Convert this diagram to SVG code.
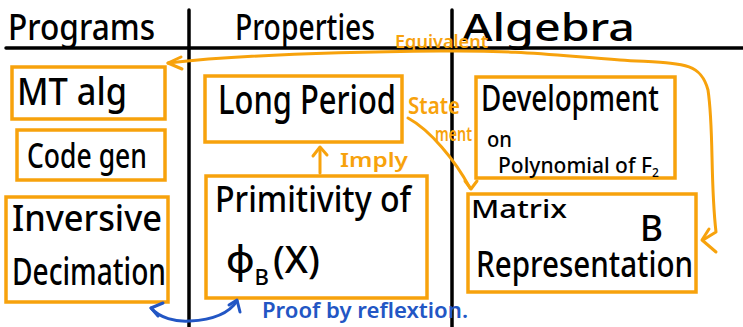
<svg xmlns="http://www.w3.org/2000/svg" width="743" height="327" viewBox="0 0 743 327">
  <style>
    .ink { fill: #000; font-family: "Noto Sans", "DejaVu Sans", sans-serif; font-weight: 500; }
    .rule { stroke: #000; stroke-width: 3.5; stroke-linecap: round; fill: none; }
    .box { fill: #fff; stroke: #f7a20c; stroke-width: 3.5; }
    .oline { fill: none; stroke: #f7a20c; stroke-width: 3; stroke-linecap: round; stroke-linejoin: round; }
    .otext { fill: #f7a20c; font-family: "Noto Sans", "DejaVu Sans", sans-serif; font-weight: 600; }
    .bline { fill: none; stroke: #2256c4; stroke-width: 3; stroke-linecap: round; stroke-linejoin: round; }
    .btext { fill: #2256c4; font-family: "Noto Sans", "DejaVu Sans", sans-serif; font-weight: 600; }
  </style>

  <rect width="743" height="327" fill="#fff"/>

  <!-- table frame -->
  <g id="frame">
    <line class="rule" x1="6" y1="48" x2="743" y2="48"/>
    <line class="rule" x1="189" y1="10" x2="189" y2="327"/>
    <line class="rule" x1="452" y1="10" x2="452" y2="327"/>
    <text class="ink" x="8" y="40" font-size="36" textLength="147" lengthAdjust="spacingAndGlyphs">Programs</text>
    <text class="ink" x="235" y="40" font-size="36" textLength="140" lengthAdjust="spacingAndGlyphs">Properties</text>
    <text class="ink" x="462" y="41" font-size="38" textLength="173" lengthAdjust="spacingAndGlyphs">Algebra</text>
  </g>

  <!-- program column -->
  <g id="mt-alg">
    <rect class="box" x="12" y="67" width="153" height="52"/>
    <text class="ink" x="17" y="105" font-size="38" textLength="110" lengthAdjust="spacingAndGlyphs">MT alg</text>
  </g>
  <g id="code-gen">
    <rect class="box" x="17" y="130" width="148" height="50"/>
    <text class="ink" x="27" y="168" font-size="34" textLength="120" lengthAdjust="spacingAndGlyphs">Code gen</text>
  </g>
  <g id="inversive-decimation">
    <rect class="box" x="6" y="197" width="162" height="105"/>
    <text class="ink" x="12" y="231" font-size="36" textLength="150" lengthAdjust="spacingAndGlyphs">Inversive</text>
    <text class="ink" x="12" y="285" font-size="38" textLength="154" lengthAdjust="spacingAndGlyphs">Decimation</text>
  </g>

  <!-- property column -->
  <g id="long-period">
    <rect class="box" x="205" y="76" width="197" height="66"/>
    <text class="ink" x="218" y="114" font-size="40" textLength="178" lengthAdjust="spacingAndGlyphs">Long Period</text>
  </g>
  <g id="primitivity">
    <rect class="box" x="206" y="176" width="221" height="122"/>
    <text class="ink" x="215" y="212" font-size="36" textLength="196" lengthAdjust="spacingAndGlyphs">Primitivity of</text>
    <text class="ink" x="226" y="273" font-size="38">φ<tspan font-size="22" dy="12">B</tspan><tspan dx="4" dy="-12">(X)</tspan></text>
  </g>

  <!-- algebra column -->
  <g id="development">
    <rect class="box" x="476" y="77" width="199" height="101"/>
    <text class="ink" x="481" y="111" font-size="36" textLength="178" lengthAdjust="spacingAndGlyphs">Development</text>
    <text class="ink" x="487" y="147" font-size="22" textLength="25" lengthAdjust="spacingAndGlyphs">on</text>
    <text class="ink" x="498" y="173" font-size="21">Polynomial of F<tspan font-size="12" dy="4">2</tspan></text>
  </g>
  <g id="matrix">
    <rect class="box" x="468" y="194" width="228" height="98"/>
    <text class="ink" x="471" y="218" font-size="26" textLength="96" lengthAdjust="spacingAndGlyphs">Matrix</text>
    <text class="ink" x="640" y="241" font-size="36" textLength="23" lengthAdjust="spacingAndGlyphs">B</text>
    <text class="ink" x="476" y="277" font-size="37" textLength="217" lengthAdjust="spacingAndGlyphs">Representation</text>
  </g>

  <!-- connectors and their labels -->
  <g id="connectors">
    <!-- Equivalent -->
    <path class="oline" d="M168,63 C230,56 330,52 440,51 C520,50 560,56 620,60 C680,64 700,60 708,90 C714,130 710,180 716,232 L703,240"/>
    <path class="oline" d="M181,57 L168,63 L182,69"/>
    <path class="oline" d="M709,229 L702,240 L716,252"/>
    <text class="otext" x="395" y="48" font-size="17" textLength="93" lengthAdjust="spacingAndGlyphs">Equivalent</text>

    <!-- Statement -->
    <path class="oline" d="M408,118 C430,130 455,160 470,188"/>
    <path class="oline" d="M465,181 L471,189 L477,181"/>
    <text class="otext" x="408" y="114" font-size="23" textLength="52" lengthAdjust="spacingAndGlyphs">State</text>
    <text class="otext" x="435" y="141" font-size="20" textLength="37" lengthAdjust="spacingAndGlyphs">ment</text>

    <!-- Imply -->
    <path class="oline" d="M320,173 L320,148"/>
    <path class="oline" d="M313,156 L320,147 L327,155"/>
    <text class="otext" x="340" y="167" font-size="19" textLength="68" lengthAdjust="spacingAndGlyphs">Imply</text>

    <!-- Proof by reflextion -->
    <path class="bline" d="M151,308 C160,318 175,322 190,321 C210,320 228,315 237,301"/>
    <path class="bline" d="M163,303 L151,308 L158,316"/>
    <path class="bline" d="M229,305 L237,300 L240,312"/>
    <text class="btext" x="262" y="318" font-size="21" textLength="206" lengthAdjust="spacingAndGlyphs">Proof by reflextion.</text>
  </g>
</svg>
